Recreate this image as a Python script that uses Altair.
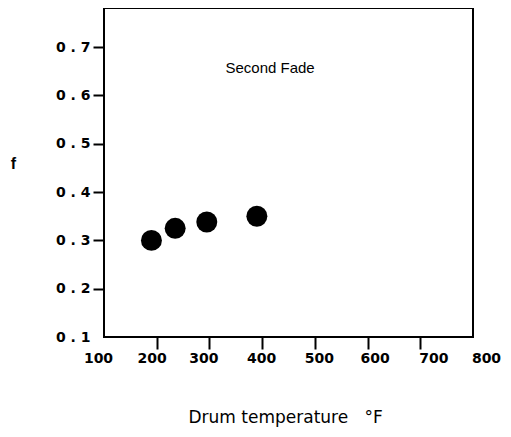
import altair as alt
import pandas as pd

# data
temps = [190, 235, 295, 390]
f_vals = [0.300, 0.325, 0.338, 0.350]

x_ticks = [100, 200, 300, 400, 500, 600, 700, 800]
y_ticks = [0.1, 0.2, 0.3, 0.4, 0.5, 0.6, 0.7]
x_label_shift = [-6, -5, -6, -1, 4, 7, 13, 13]

note_text = ["Second Fade"]
note_x = [415]
note_y = [0.657]

df = pd.DataFrame({"t": temps, "f": f_vals})
notes = pd.DataFrame({"label": note_text, "t": note_x, "f": note_y})

shift_expr = "[" + ",".join(str(v) for v in x_label_shift) + "][round((datum.value-100)/100)]"

x_scale = alt.Scale(domain=[100, 800], nice=False, zero=False)
y_scale = alt.Scale(domain=[0.1, 0.781], nice=False, zero=False)

x_axis = alt.Axis(
    values=x_ticks,
    title="Drum temperature\u00a0\u00a0\u00a0\u00b0F",
    domain=False,
    grid=False,
    ticks=True,
    tickSize=12,
    tickWidth=2,
    tickColor={"expr": "datum.value == 100 || datum.value == 800 ? 'transparent' : 'black'"},
    labelOffset={"expr": shift_expr},
    labelPadding=2,
    labelFont="DejaVu Sans",
    labelFontWeight="bold",
    labelFontSize=14,
    labelColor="black",
    labelFlush=False,
    titleFont="DejaVu Sans",
    titleFontSize=17,
    titleFontWeight="normal",
    titleColor="black",
    titleAnchor="start",
    titleAlign="left",
    titleBaseline="middle",
    titleX=84,
    titleY=80,
)

y_axis = alt.Axis(
    values=y_ticks,
    title="f",
    domain=False,
    grid=False,
    ticks=True,
    tickSize=11,
    tickWidth=2,
    tickColor={"expr": "datum.value < 0.15 ? 'transparent' : 'black'"},
    labelExpr="replace(format(datum.value, '.1f'), '.', ' . ')",
    labelPadding=3,
    labelFont="DejaVu Sans",
    labelFontWeight="bold",
    labelFontSize=14,
    labelColor="black",
    labelFlush=False,
    titleFont="Liberation Sans",
    titleFontSize=16,
    titleFontWeight="bold",
    titleColor="black",
    titleAngle=0,
    titleAlign="center",
    titleBaseline="middle",
    titleX=-91,
    titleY=155,
)

points = alt.Chart(df).mark_circle(size=440, color="black", opacity=1).encode(
    x=alt.X("t:Q", scale=x_scale, axis=x_axis),
    y=alt.Y("f:Q", scale=y_scale, axis=y_axis),
)

note = alt.Chart(notes).mark_text(
    font="Liberation Sans", fontSize=15, color="black", align="center", baseline="middle"
).encode(
    x=alt.X("t:Q", scale=x_scale),
    y=alt.Y("f:Q", scale=y_scale),
    text="label:N",
)

chart = (
    alt.layer(points, note)
    .properties(
        width=369,
        height=329,
        autosize=alt.AutoSizeParams(type="none"),
        padding={"left": 96, "top": 0, "right": 29, "bottom": 91},
        background="white",
    )
    .configure_view(stroke="black", strokeWidth=2, fill="white")
)

chart.save("out.html", embed_options={"renderer": "svg", "actions": False})
